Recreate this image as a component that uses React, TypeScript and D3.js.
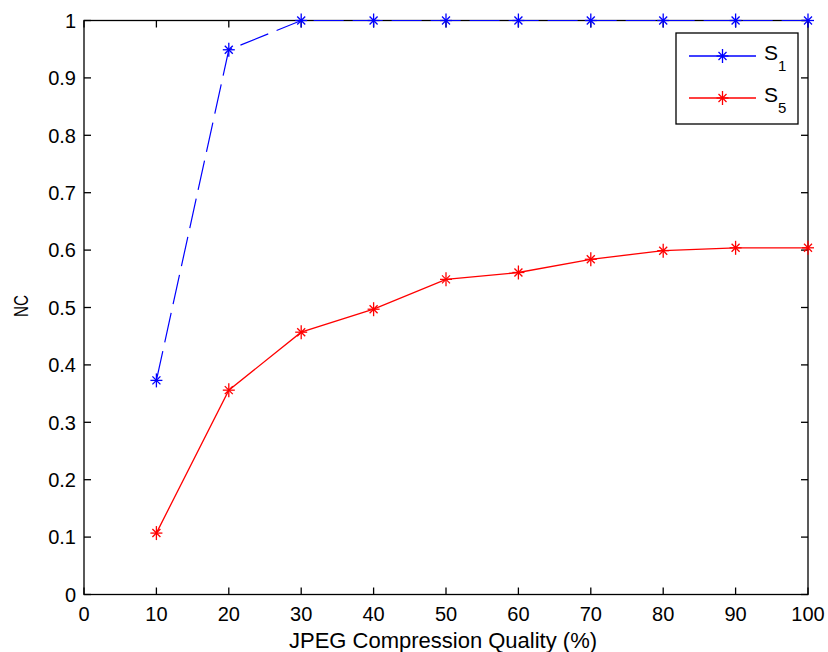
import { useEffect, useRef } from 'react';
import * as d3 from 'd3';

const quality = [10, 20, 30, 40, 50, 60, 70, 80, 90, 100];
const s1Values = [0.373, 0.949, 1, 1, 1, 1, 1, 1, 1, 1];
const s5Values = [0.107, 0.356, 0.457, 0.497, 0.549, 0.561, 0.584, 0.599, 0.604, 0.604];
const xTicks = [0, 10, 20, 30, 40, 50, 60, 70, 80, 90, 100];
const yTicks = [0, 0.1, 0.2, 0.3, 0.4, 0.5, 0.6, 0.7, 0.8, 0.9, 1];
const seriesNames = ['1', '5'];

const WIDTH = 828;
const HEIGHT = 652;
const FONT = '"Liberation Sans", Arial, sans-serif';

const drawStar = (g, x, y, color) => {
  const star = g.append('g').attr('transform', `translate(${x},${y})`).attr('stroke', color).attr('stroke-width', 1.3);
  star.append('line').attr('x1', 0).attr('x2', 0).attr('y1', -7).attr('y2', 7);
  star.append('line').attr('x1', -6).attr('x2', 6).attr('y1', 0).attr('y2', 0);
  star.append('line').attr('x1', -4).attr('x2', 4).attr('y1', -4).attr('y2', 4);
  star.append('line').attr('x1', -4).attr('x2', 4).attr('y1', 4).attr('y2', -4);
};

export default function App() {
  const ref = useRef(null);

  useEffect(() => {
    const svg = d3.select(ref.current);
    svg.selectAll('*').remove();

    const left = 84;
    const right = 808;
    const top = 20.5;
    const bottom = 594.5;

    const x = d3.scaleLinear().domain([0, 100]).range([left, right]);
    const y = d3.scaleLinear().domain([0, 1]).range([bottom, top]);

    svg.append('rect').attr('width', WIDTH).attr('height', HEIGHT).attr('fill', '#fff');

    // axes box with inward ticks
    const axes = svg.append('g').attr('stroke', '#000').attr('stroke-width', 1.3).attr('fill', 'none');
    axes.append('rect').attr('x', left).attr('y', top).attr('width', right - left).attr('height', bottom - top);
    xTicks.forEach((t) => {
      axes.append('line').attr('x1', x(t)).attr('x2', x(t)).attr('y1', bottom).attr('y2', bottom - 7);
      axes.append('line').attr('x1', x(t)).attr('x2', x(t)).attr('y1', top).attr('y2', top + 7);
    });
    yTicks.forEach((t) => {
      axes.append('line').attr('x1', left).attr('x2', left + 7).attr('y1', y(t)).attr('y2', y(t));
      axes.append('line').attr('x1', right).attr('x2', right - 7).attr('y1', y(t)).attr('y2', y(t));
    });

    const labels = svg.append('g').attr('font-family', FONT).attr('font-size', 20).attr('fill', '#000');
    xTicks.forEach((t) => {
      labels.append('text').attr('x', x(t)).attr('y', bottom + 26).attr('text-anchor', 'middle').text(d3.format('d')(t));
    });
    yTicks.forEach((t) => {
      labels.append('text').attr('x', left - 8).attr('y', y(t)).attr('dy', '0.36em').attr('text-anchor', 'end').text(d3.format('~g')(t));
    });
    labels.append('text').attr('x', 443).attr('y', 648).attr('font-size', 22).attr('text-anchor', 'middle').text('JPEG Compression Quality (%)');
    labels.append('text').attr('transform', `translate(27.5,306) rotate(-90)`).attr('text-anchor', 'middle')
      .attr('textLength', 22).attr('lengthAdjust', 'spacingAndGlyphs').text('NC');

    const line = d3.line().x((d) => x(d[0])).y((d) => y(d[1]));

    const s1 = quality.map((q, i) => [q, s1Values[i]]);
    const s5 = quality.map((q, i) => [q, s5Values[i]]);

    svg.append('path').attr('d', line(s5)).attr('fill', 'none').attr('stroke', '#ff0000').attr('stroke-width', 1.3);
    s5.forEach((d) => drawStar(svg, x(d[0]), y(d[1]), '#ff0000'));

    svg.append('path').attr('d', line(s1)).attr('fill', 'none').attr('stroke', '#0000ff').attr('stroke-width', 1.2).attr('stroke-dasharray', '30 9');
    s1.forEach((d) => drawStar(svg, x(d[0]), y(d[1]), '#0000ff'));

    // legend
    const legend = svg.append('g');
    legend.append('rect').attr('x', 676).attr('y', 33).attr('width', 122).attr('height', 91).attr('fill', '#fff').attr('stroke', '#000').attr('stroke-width', 1.3);
    const colors = ['#0000ff', '#ff0000'];
    seriesNames.forEach((name, i) => {
      const ly = 56 + i * 42;
      legend.append('line').attr('x1', 689).attr('x2', 756).attr('y1', ly).attr('y2', ly).attr('stroke', colors[i]).attr('stroke-width', 1.3);
      drawStar(legend, 722.5, ly, colors[i]);
      const txt = legend.append('text').attr('x', 764).attr('y', ly + 4).attr('font-family', FONT).attr('font-size', 21).attr('fill', '#000');
      txt.append('tspan').text('S');
      txt.append('tspan').attr('font-size', 15).attr('dy', 11).text(name);
    });
  }, []);

  return (
    <div style={{ position: 'absolute', left: 0, top: 0 }}>
      <svg ref={ref} width={WIDTH} height={HEIGHT} />
    </div>
  );
}
